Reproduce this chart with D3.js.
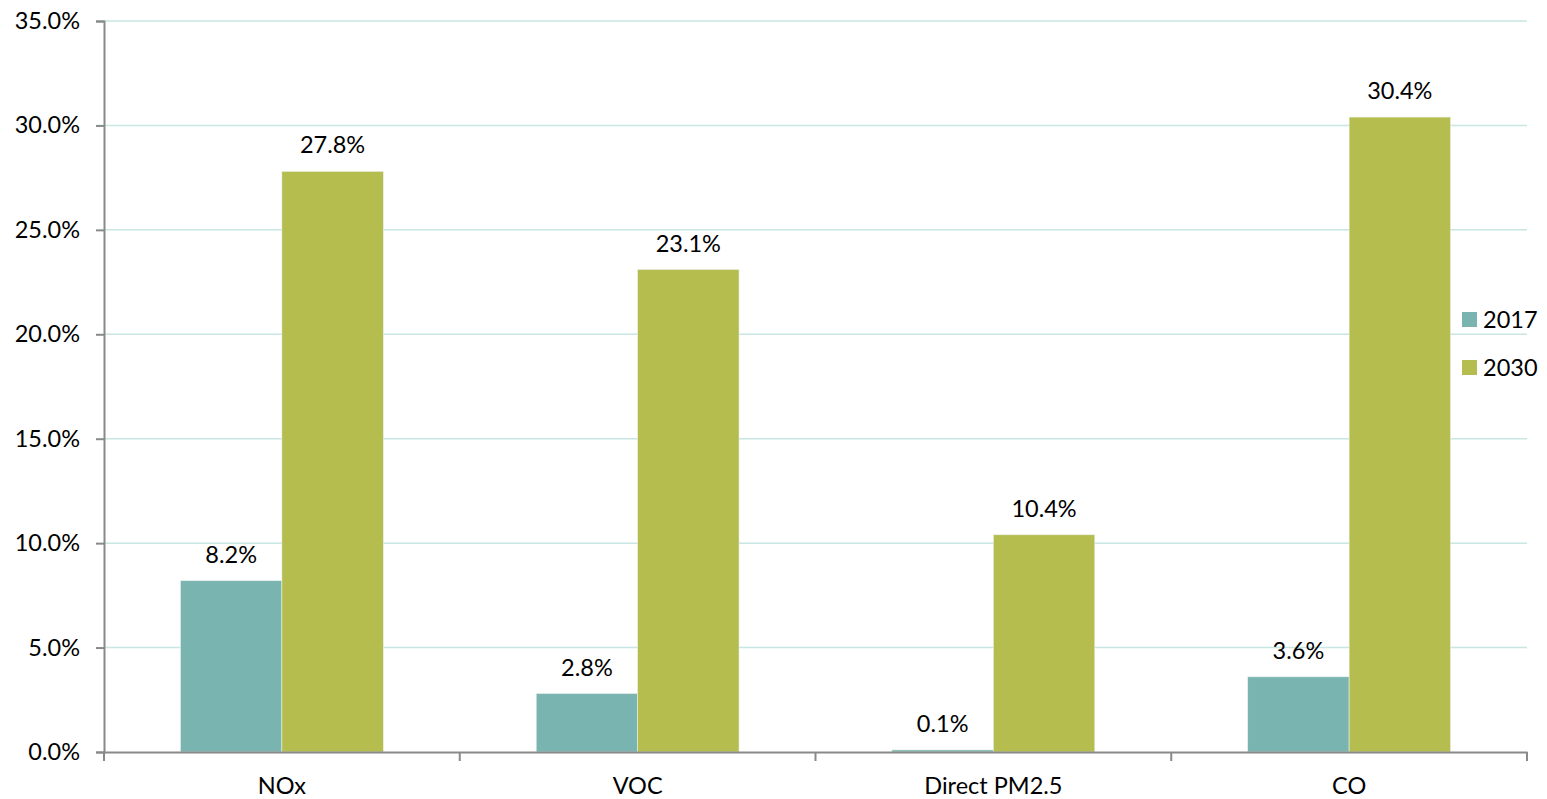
<!DOCTYPE html>
<html>
<head>
<meta charset="utf-8">
<script src="https://cdn.jsdelivr.net/npm/d3@7"></script>
<style>
  body { margin: 0; background: #fff; }
  text { font-family: Lato, "Open Sans", sans-serif; fill: #000; }
</style>
</head>
<body>
<div id="chart"></div>
<script>
// data
const categories = ["NOx", "VOC", "Direct PM2.5", "CO"];
const seriesNames = ["2017", "2030"];
const values2017 = [8.2, 2.8, 0.1, 3.6];
const values2030 = [27.8, 23.1, 10.4, 30.4];
const yTicks = [0, 5, 10, 15, 20, 25, 30, 35];
const colors = ["#7ab4b0", "#b5bd4e"];

const W = 1547, H = 799;
const margin = {top: 21, right: 20, bottom: 47, left: 104};
const plotRight = 1527;
const fs = 23.5;
const ff = "Lato, 'Open Sans', sans-serif";

const svg = d3.select("#chart").append("svg")
  .attr("width", W).attr("height", H);

const y = d3.scaleLinear().domain([0, 35]).range([H - margin.bottom, margin.top]);
const x0 = d3.scaleBand().domain(categories).range([margin.left, plotRight]).padding(0);
const x1 = d3.scaleBand().domain(seriesNames).range([0, x0.bandwidth()])
  .paddingInner(0).paddingOuter(0.754);

// grid lines
svg.append("g")
  .selectAll("line")
  .data(yTicks.filter(d => d > 0))
  .join("line")
    .attr("x1", margin.left).attr("x2", plotRight)
    .attr("y1", d => y(d)).attr("y2", d => y(d))
    .attr("stroke", "#c8e6e4").attr("stroke-width", 1.5);

// bars
const rows = categories.map((c, i) => ({cat: c, vals: [values2017[i], values2030[i]]}));
const groups = svg.append("g").selectAll("g")
  .data(rows).join("g")
    .attr("transform", d => `translate(${x0(d.cat)},0)`);

groups.selectAll("rect")
  .data(d => d.vals.map((v, j) => ({s: seriesNames[j], v: v, j: j})))
  .join("rect")
    .attr("x", d => x1(d.s))
    .attr("y", d => y(d.v))
    .attr("width", x1.bandwidth())
    .attr("height", d => y(0) - y(d.v))
    .attr("fill", d => colors[d.j])
    .attr("stroke", "#e8f0ea").attr("stroke-width", 0.6);

groups.selectAll("text.lbl")
  .data(d => d.vals.map((v, j) => ({s: seriesNames[j], v: v})))
  .join("text")
    .attr("class", "lbl")
    .attr("x", d => x1(d.s) + x1.bandwidth() / 2)
    .attr("y", d => y(d.v) - 18)
    .attr("text-anchor", "middle")
    .attr("font-size", fs)
    .text(d => d.v.toFixed(1) + "%");

// y axis
const yAxis = svg.append("g")
  .attr("transform", `translate(${margin.left},0)`)
  .call(d3.axisLeft(y).tickValues(yTicks).tickSize(8).tickPadding(16)
    .tickFormat(d => d.toFixed(1) + "%"));
yAxis.select(".domain").attr("stroke", "#898989").attr("stroke-width", 2);
yAxis.selectAll(".tick line").attr("stroke", "#898989").attr("stroke-width", 2);
yAxis.selectAll(".tick text").attr("font-size", fs).attr("font-family", ff).attr("fill", "#000");

// x axis
const xAxis = svg.append("g")
  .attr("transform", `translate(0,${y(0)})`)
  .call(d3.axisBottom(x0).tickSize(0).tickPadding(25));
xAxis.select(".domain").attr("stroke", "#898989").attr("stroke-width", 2);
xAxis.selectAll(".tick text").attr("font-size", fs).attr("font-family", ff).attr("fill", "#000");
// category separators
xAxis.selectAll("line.sep")
  .data(categories.map(c => x0(c)).concat([plotRight]))
  .join("line")
    .attr("class", "sep")
    .attr("x1", d => d).attr("x2", d => d)
    .attr("y1", 0).attr("y2", 9)
    .attr("stroke", "#898989").attr("stroke-width", 2);

// legend
const legend = svg.append("g").selectAll("g")
  .data(seriesNames).join("g")
    .attr("transform", (d, i) => `translate(1462,${312 + i * 48})`);
legend.append("rect")
  .attr("width", 15).attr("height", 15)
  .attr("fill", (d, i) => colors[i]);
legend.append("text")
  .attr("x", 21).attr("y", 16)
  .attr("font-size", fs)
  .text(d => d);
</script>
</body>
</html>
